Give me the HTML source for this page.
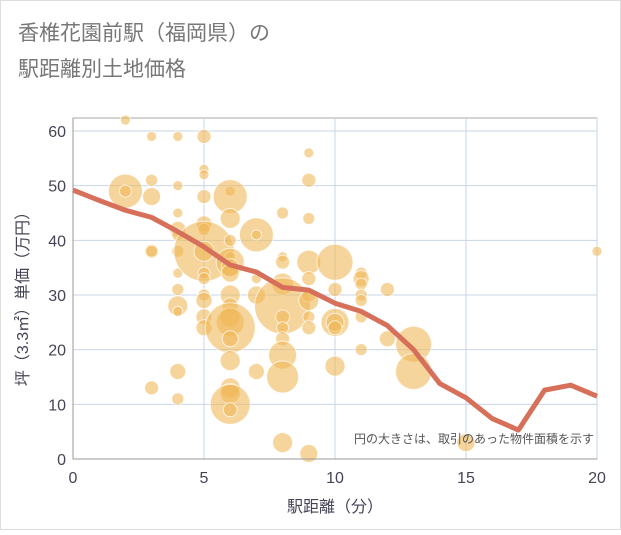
<!DOCTYPE html>
<html><head><meta charset="utf-8"><style>
body{margin:0;background:#fff;}
svg text{font-family:"Liberation Sans","Noto Sans CJK JP",sans-serif;}
</style></head><body>
<svg width="621" height="530" xmlns="http://www.w3.org/2000/svg">
<rect x="0.5" y="0.5" width="620" height="529" fill="#fff" stroke="#ddd"/>
<text x="18" y="40" font-size="21" fill="#777">香椎花園前駅（福岡県）の</text>
<text x="18" y="76" font-size="21" fill="#777">駅距離別土地価格</text>
<g id="grid"></g>
<g id="bubbles"></g>
<g id="line"></g>
<g id="axes"></g>
<text x="594" y="443" font-size="12" fill="#555" text-anchor="end">円の大きさは、取引のあった物件面積を示す</text>
<text x="335" y="512" font-size="16" fill="#445" text-anchor="middle">駅距離（分）</text>
<text transform="translate(28,295) rotate(-90)" font-size="16" fill="#445" text-anchor="middle">坪（3.3㎡）単価（万円）</text>
</svg>
<script>
const xTicks=[0,5,10,15,20];
const yTicks=[0,10,20,30,40,50,60];
const lineX=[0,1,2,3,4,5,6,7,8,9,10,11,12,13,14,15,16,17,18,19,20];
const lineY=[49.2,47.3,45.5,44.2,41.6,38.8,35.5,34.2,31.4,30.9,28.5,27,24.4,20,13.8,11.2,7.4,5.3,12.6,13.5,11.5];
const ptX=[2,3,4,5,2,2,3,3,4,4,4,4,4,3,3,4,4,4,4,4,3,4,5,5,5,5,5,5,5,5,5,5,5,5,5,6,6,6,6,6,6,6,6,6,6,6,6,6,6,6,6,6,6,6,7,7,7,7,7,8,8,8,8,8,8,8,8,8,8,8,9,9,9,9,9,9,9,9,9,9,10,10,10,10,10,10,11,11,11,11,11,11,11,12,12,13,13,15,20];
const ptY=[62,59,59,59,49,49,51,48,50,45,42,41,38,38,38,34,31,28,27,16,13,11,53,52,48,43,42,38,38,34,33,30,29,26,24,49,48,44,40,37,36,35,34,30,28,26,25,24,22,18,13,12,10,9,41,41,33,30,16,45,37,36,32,28,26,24,22,19,15,3,56,51,44,36,33,30,29,26,24,1,36,31,25,25,24,17,34,33,32,30,29,26,20,31,22,21,16,3,38];
const ptSize=[5,5,5,7,17,6,6,9,5,5,8,6,6,7,6,5,6,10,5,8,7,6,5,5,7,8,6,30,10,6,6,6,8,8,8,5,17,10,6,5,14,9,9,10,8,10,14,25,8,10,10,10,20,7,17,5,5,9,8,6,5,7,11,28,7,6,7,14,16,10,5,7,6,12,7,7,10,6,7,9,18,7,14,9,7,10,6,8,6,6,6,6,6,7,8,18,18,9,5];
const NS="http://www.w3.org/2000/svg";
const X0=73,X1=597,Y0=459,Y1=131;
const sx=v=>X0+v/20*(X1-X0);
const syy=v=>Y0-v*(Y0-Y1)/60;
function mk(tag,attrs,parent){const e=document.createElementNS(NS,tag);for(const k in attrs)e.setAttribute(k,attrs[k]);parent.appendChild(e);return e;}
const grid=document.getElementById('grid'),axes=document.getElementById('axes');
mk('rect',{x:X0,y:118,width:X1-X0,height:Y0-118,fill:'#fff',stroke:'#aaa'},grid);
xTicks.forEach(t=>{const l=mk('line',{x1:sx(t),x2:sx(t),y1:118,y2:Y0,stroke:'#c8d6e6'},grid);


const tx=mk('text',{x:sx(t),y:Y0+24,'font-size':16,fill:'#445','text-anchor':'middle'},axes);tx.textContent=t;

});
yTicks.forEach(t=>{const l=mk('line',{x1:X0,x2:X1,y1:syy(t),y2:syy(t),stroke:'#c8d6e6'},grid);


const tx=mk('text',{x:X0-7,y:syy(t)+6,'font-size':16,fill:'#445','text-anchor':'end'},axes);tx.textContent=t;

});
mk('line',{x1:X0,x2:X0,y1:118,y2:Y0,stroke:'#999'},axes);
mk('line',{x1:X0,x2:X1,y1:Y0,y2:Y0,stroke:'#999'},axes);
const bg=document.getElementById('bubbles');
ptX.forEach((x,i)=>{const c=mk('circle',{cx:sx(x),cy:syy(ptY[i]),r:ptSize[i],fill:'rgba(240,182,85,0.58)',stroke:'rgba(255,255,255,0.7)','stroke-width':1},bg);

});
const p=mk('polyline',{points:lineX.map((x,i)=>sx(x)+','+syy(lineY[i])).join(' '),fill:'none',stroke:'#d7705a','stroke-width':5,'stroke-linejoin':'round'},document.getElementById('line'));


</script>
</body></html>
